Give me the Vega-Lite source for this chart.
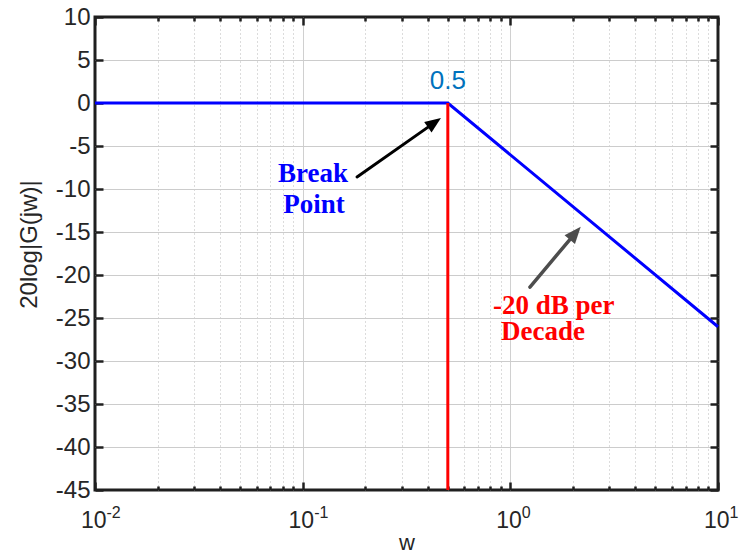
{
  "$schema": "https://vega.github.io/schema/vega-lite/v6.json",
  "width": 623,
  "height": 473,
  "autosize": {"type": "none"},
  "padding": {"left": 95, "top": 17, "right": 28, "bottom": 64},
  "background": "white",
  "config": {
    "view": {"stroke": "#1f1f1f", "strokeWidth": 3},
    "axis": {
      "labelFont": "Liberation Sans",
      "titleFont": "Liberation Sans",
      "labelColor": "#262626",
      "titleColor": "#262626",
      "domain": false,
      "tickColor": "#1f1f1f",
      "tickWidth": 2.5,
      "labelFlush": false,
      "labelOverlap": false,
      "labelBound": false
    }
  },
  "datasets": {
    "curve": [
      {"w": 0.01, "db": 0},
      {"w": 0.5, "db": 0},
      {"w": 10, "db": -26.02}
    ],
    "brk": [{"w": 0.5, "db": -45, "db2": 0}],
    "notes": [
      {"w": 0.5, "db": 1.63, "note": "0.5", "kind": "bp"},
      {"w": 0.1122, "db": -9.19, "note": "Break", "kind": "bk"},
      {"w": 0.1134, "db": -12.79, "note": "Point", "kind": "bk"},
      {"w": 0.825, "db": -24.53, "note": "-20 dB per", "kind": "slope"},
      {"w": 0.902, "db": -27.5, "note": "Decade", "kind": "slope"}
    ],
    "arrows": [
      {"w": 0.1827, "db": -8.6, "w2": 0.4313, "db2": -2.28, "tw": 0.4634, "tdb": -1.74, "kind": "black"},
      {"w": 1.243, "db": -21.4, "w2": 2.06, "db2": -15.09, "tw": 2.182, "tdb": -14.38, "kind": "gray"}
    ]
  },
  "layer": [
    {
      "data": {"name": "curve"},
      "mark": {"type": "line", "color": "#0000FF", "strokeWidth": 3},
      "encoding": {
        "x": {
          "field": "w", "type": "quantitative",
          "scale": {"type": "log", "domain": [0.01, 10], "nice": false},
          "axis": {
            "orient": "bottom",
            "values": [0.01, 0.02, 0.03, 0.04, 0.05, 0.06, 0.07, 0.08, 0.09, 0.1, 0.2, 0.3, 0.4, 0.5, 0.6, 0.7, 0.8, 0.9, 1, 2, 3, 4, 5, 6, 7, 8, 9, 10],
            "grid": true,
            "gridColor": {"condition": {"test": "abs(log(datum.value)/LN10 - round(log(datum.value)/LN10)) < 0.001", "value": "#d0d0d0"}, "value": "#b8b8b8"},
            "gridDash": {"condition": {"test": "abs(log(datum.value)/LN10 - round(log(datum.value)/LN10)) < 0.001", "value": []}, "value": [1, 3]},
            "gridOpacity": {"condition": {"test": "datum.value < 0.0100001 || datum.value > 9.9999", "value": 0}, "value": 1},
            "tickSize": {"condition": {"test": "abs(log(datum.value)/LN10 - round(log(datum.value)/LN10)) < 0.001", "value": -8}, "value": -4},
            "labelExpr": "abs(log(datum.value)/LN10 - round(log(datum.value)/LN10)) < 0.001 ? '10' : ''",
            "labelFontSize": 23,
            "labelAlign": "right",
            "labelOffset": 11,
            "labelBaseline": "alphabetic",
            "labelPadding": 45,
            "title": "w",
            "titleFontSize": 22,
            "titleFontWeight": "normal",
            "titleBaseline": "alphabetic",
            "titleY": 59
          }
        },
        "y": {
          "field": "db", "type": "quantitative",
          "scale": {"domain": [-45, 10], "nice": false, "zero": false},
          "axis": {
            "orient": "left",
            "values": [-45, -40, -35, -30, -25, -20, -15, -10, -5, 0, 5, 10],
            "grid": true,
            "gridColor": "#cccccc",
            "gridOpacity": {"condition": {"test": "datum.value == 10 || datum.value == -45", "value": 0}, "value": 1},
            "tickSize": -8,
            "labelExpr": "'' + datum.value",
            "labelFontSize": 24,
            "labelPadding": 13,
            "title": "20log|G(jw)|",
            "titleFontSize": 24,
            "titleFontWeight": "normal",
            "titleAngle": -90,
            "titleBaseline": "alphabetic",
            "titleAlign": "center",
            "titleX": -59,
            "titleY": 227
          }
        }
      }
    },
    {
      "data": {"name": "brk"},
      "mark": {"type": "rule", "color": "#FF0000", "strokeWidth": 3},
      "encoding": {
        "x": {
          "field": "w", "type": "quantitative",
          "scale": {"type": "log", "domain": [0.01, 10], "nice": false},
          "axis": {
            "orient": "bottom",
            "values": [0.01, 0.1, 1, 10],
            "grid": false,
            "ticks": false,
            "tickSize": 0,
            "labelExpr": "'' + round(log(datum.value)/LN10)",
            "labelFontSize": 16,
            "labelAlign": "left",
            "labelOffset": 11,
            "labelBaseline": "alphabetic",
            "labelPadding": 27,
            "title": null
          }
        },
        "y": {
          "field": "db", "type": "quantitative",
          "scale": {"domain": [-45, 10], "nice": false, "zero": false},
          "axis": {
            "orient": "right",
            "values": [-45, -40, -35, -30, -25, -20, -15, -10, -5, 0, 5, 10],
            "grid": false,
            "labels": false,
            "tickSize": -8,
            "title": null
          }
        },
        "y2": {"field": "db2"}
      }
    },
    {
      "data": {"name": "notes"},
      "transform": [{"filter": "datum.kind == 'bp'"}],
      "mark": {"type": "text", "font": "Liberation Sans", "fontSize": 26, "color": "#0072BD", "align": "center", "baseline": "alphabetic"},
      "encoding": {
        "x": {
          "field": "w", "type": "quantitative",
          "scale": {"type": "log", "domain": [0.01, 10], "nice": false},
          "axis": {
            "orient": "top",
            "values": [0.01, 0.02, 0.03, 0.04, 0.05, 0.06, 0.07, 0.08, 0.09, 0.1, 0.2, 0.3, 0.4, 0.5, 0.6, 0.7, 0.8, 0.9, 1, 2, 3, 4, 5, 6, 7, 8, 9, 10],
            "grid": false,
            "labels": false,
            "tickSize": {"condition": {"test": "abs(log(datum.value)/LN10 - round(log(datum.value)/LN10)) < 0.001", "value": -8}, "value": -4},
            "title": null
          }
        },
        "y": {"field": "db", "type": "quantitative", "scale": {"domain": [-45, 10], "nice": false, "zero": false}, "axis": null},
        "text": {"field": "note"}
      }
    },
    {
      "data": {"name": "notes"},
      "transform": [{"filter": "datum.kind == 'bk'"}],
      "mark": {"type": "text", "font": "Liberation Serif", "fontWeight": "bold", "fontSize": 27, "color": "#0000FF", "align": "center", "baseline": "alphabetic"},
      "encoding": {
        "x": {"field": "w", "type": "quantitative", "scale": {"type": "log", "domain": [0.01, 10], "nice": false}, "axis": null},
        "y": {"field": "db", "type": "quantitative", "scale": {"domain": [-45, 10], "nice": false, "zero": false}, "axis": null},
        "text": {"field": "note"}
      }
    },
    {
      "data": {"name": "notes"},
      "transform": [{"filter": "datum.kind == 'slope'"}],
      "mark": {"type": "text", "font": "Liberation Serif", "fontWeight": "bold", "fontSize": 27, "color": "#FF0000", "align": "left", "baseline": "alphabetic"},
      "encoding": {
        "x": {"field": "w", "type": "quantitative", "scale": {"type": "log", "domain": [0.01, 10], "nice": false}, "axis": null},
        "y": {"field": "db", "type": "quantitative", "scale": {"domain": [-45, 10], "nice": false, "zero": false}, "axis": null},
        "text": {"field": "note"}
      }
    },
    {
      "data": {"name": "arrows"},
      "transform": [{"filter": "datum.kind == 'black'"}],
      "mark": {"type": "rule", "color": "#000000", "strokeWidth": 3, "strokeCap": "round"},
      "encoding": {
        "x": {"field": "w", "type": "quantitative", "scale": {"type": "log", "domain": [0.01, 10], "nice": false}, "axis": null},
        "y": {"field": "db", "type": "quantitative", "scale": {"domain": [-45, 10], "nice": false, "zero": false}, "axis": null},
        "x2": {"field": "w2"},
        "y2": {"field": "db2"}
      }
    },
    {
      "data": {"name": "arrows"},
      "transform": [{"filter": "datum.kind == 'black'"}],
      "mark": {"type": "point", "shape": "M0,0L0.4,1L-0.4,1Z", "size": 1024, "angle": 54.9, "filled": true, "color": "#000000", "opacity": 1, "strokeWidth": 0},
      "encoding": {
        "x": {"field": "tw", "type": "quantitative", "scale": {"type": "log", "domain": [0.01, 10], "nice": false}, "axis": null},
        "y": {"field": "tdb", "type": "quantitative", "scale": {"domain": [-45, 10], "nice": false, "zero": false}, "axis": null}
      }
    },
    {
      "data": {"name": "arrows"},
      "transform": [{"filter": "datum.kind == 'gray'"}],
      "mark": {"type": "rule", "color": "#4d4d4d", "strokeWidth": 3.5, "strokeCap": "round"},
      "encoding": {
        "x": {"field": "w", "type": "quantitative", "scale": {"type": "log", "domain": [0.01, 10], "nice": false}, "axis": null},
        "y": {"field": "db", "type": "quantitative", "scale": {"domain": [-45, 10], "nice": false, "zero": false}, "axis": null},
        "x2": {"field": "w2"},
        "y2": {"field": "db2"}
      }
    },
    {
      "data": {"name": "arrows"},
      "transform": [{"filter": "datum.kind == 'gray'"}],
      "mark": {"type": "point", "shape": "M0,0L0.4,1L-0.4,1Z", "size": 1156, "angle": 40.1, "filled": true, "color": "#4d4d4d", "opacity": 1, "strokeWidth": 0},
      "encoding": {
        "x": {"field": "tw", "type": "quantitative", "scale": {"type": "log", "domain": [0.01, 10], "nice": false}, "axis": null},
        "y": {"field": "tdb", "type": "quantitative", "scale": {"domain": [-45, 10], "nice": false, "zero": false}, "axis": null}
      }
    }
  ],
  "resolve": {"axis": {"x": "independent", "y": "independent"}}
}
